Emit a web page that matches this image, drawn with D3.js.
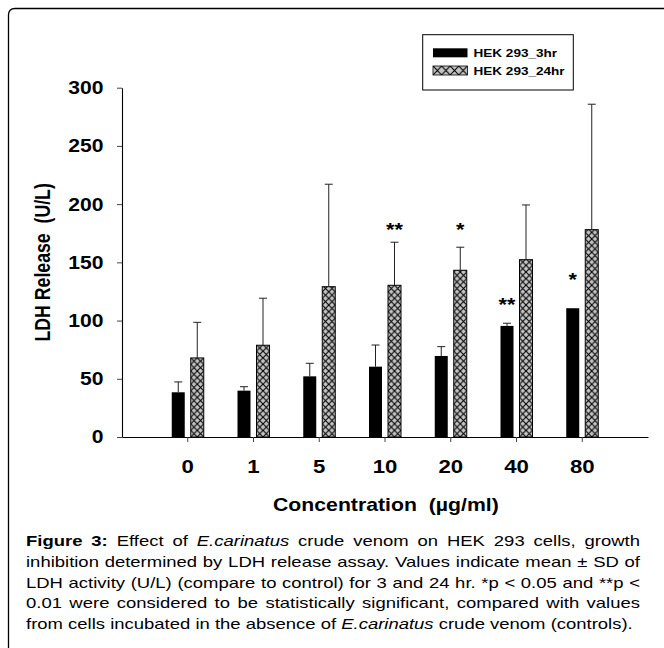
<!DOCTYPE html>
<html><head><meta charset="utf-8">
<script src="https://cdn.jsdelivr.net/npm/d3@7"></script>
<style>body{margin:0;background:#fff}</style>
</head><body>
<svg id="chart" width="664" height="648"></svg>
<script>
// ---------- data ----------
const categories = ["0", "1", "5", "10", "20", "40", "80"];
const hr3 = [38.4, 39.8, 52.1, 60.4, 69.6, 95.4, 110.6];
const hr3SD = [8.9, 3.4, 11.2, 18.6, 8.0, 2.3, 0];
const hr24 = [67.9, 78.8, 129.1, 130.3, 143.2, 152.3, 178.1];
const hr24SD = [30.6, 40.4, 88.0, 37.0, 19.8, 47.0, 107.7];
const yTicks = [0, 50, 100, 150, 200, 250, 300];
const seriesNames = ["HEK 293_3hr", "HEK 293_24hr"];
const sigCats = ["10", "20", "40", "80"];
const sigSeries = [1, 1, 0, 0];
const sigMarks = ["**", "*", "**", "*"];
const sigLevels = [181.5, 181.5, 117, 138.3];
const xTitle = "Concentration\u00a0\u00a0(\u00b5g/ml)";
const yTitle = "LDH\u00a0Release\u00a0\u00a0(U/L)";
const captionLines = [
  [["Figure 3:", "b"], [" Effect of ", ""], ["E.carinatus", "i"], [" crude venom on HEK 293 cells, growth", ""]],
  [["inhibition determined by LDH release assay. Values indicate mean \u00b1 SD of", ""]],
  [["LDH activity (U/L) (compare to control) for 3 and 24 hr. *p < 0.05 and **p <", ""]],
  [["0.01 were considered to be statistically significant, compared with values", ""]],
  [["from cells incubated in the absence of ", ""], ["E.carinatus", "i"], [" crude venom (controls).", ""]]
];

// ---------- layout ----------
const SX = 1.2;
const FONT = "'Liberation Sans', Arial, Helvetica, sans-serif";
const svg = d3.select("#chart");
const plotL = 122, plotR = 648, plotT = 87.7, plotB = 437;

const x = d3.scaleBand().domain(categories).range([plotL, plotR]).paddingInner(0).paddingOuter(0.5);
const y = d3.scaleLinear().domain([0, 300]).range([plotB, plotT]);
const barW = 13, off = 3;

function stext(g, px, py, str, size, anchor, weight) {
  return g.append("text")
    .attr("transform", `translate(${px},${py}) scale(${SX},1)`)
    .attr("font-family", FONT).attr("font-size", size)
    .attr("font-weight", weight || "bold")
    .attr("text-anchor", anchor || "start")
    .attr("fill", "#000")
    .text(str);
}

// frame (top + left, rounded corner)
svg.append("path")
  .attr("d", "M8.5,648 L8.5,15 Q8.5,8.5 15,8.5 L664,8.5")
  .attr("fill", "none").attr("stroke", "#000").attr("stroke-width", 1.3);

const defs = svg.append("defs");
function hatch(id, px, py, w, h) {
  const p = defs.append("pattern").attr("id", id)
    .attr("patternUnits", "userSpaceOnUse")
    .attr("x", px).attr("y", py).attr("width", w).attr("height", h);
  p.append("rect").attr("width", w).attr("height", h).attr("fill", "#c4c4c4");
  p.append("path").attr("d", `M0,0L${w},${h}M${w},0L0,${h}`)
    .attr("stroke", "#000").attr("stroke-width", 1.1).attr("fill", "none");
}

// bars
const g = svg.append("g");
categories.forEach((c, i) => {
  const cx = x(c) + x.bandwidth() / 2;
  hatch("h" + i, cx + off, plotB, 6.5, 6.6);
});

g.selectAll("rect.b3").data(categories).join("rect").attr("class", "b3")
  .attr("x", c => x(c) + x.bandwidth() / 2 - off - barW)
  .attr("y", (c, i) => y(hr3[i]))
  .attr("width", barW)
  .attr("height", (c, i) => y(0) - y(hr3[i]))
  .attr("fill", "#000");

g.selectAll("rect.b24").data(categories).join("rect").attr("class", "b24")
  .attr("x", c => x(c) + x.bandwidth() / 2 + off)
  .attr("y", (c, i) => y(hr24[i]))
  .attr("width", barW)
  .attr("height", (c, i) => y(0) - y(hr24[i]))
  .attr("fill", (c, i) => `url(#h${i})`)
  .attr("stroke", "#000").attr("stroke-width", 1);

// error bars (upper only)
function errBars(vals, sds, dx) {
  categories.forEach((c, i) => {
    if (!sds[i]) return;
    const cx = x(c) + x.bandwidth() / 2 + dx;
    const y1 = y(vals[i]), y2 = y(vals[i] + sds[i]);
    g.append("line").attr("x1", cx).attr("x2", cx).attr("y1", y1).attr("y2", y2)
      .attr("stroke", "#222").attr("stroke-width", 1);
    g.append("line").attr("x1", cx - 4).attr("x2", cx + 4).attr("y1", y2).attr("y2", y2)
      .attr("stroke", "#222").attr("stroke-width", 1);
  });
}
errBars(hr3, hr3SD, -off - barW / 2);
errBars(hr24, hr24SD, off + barW / 2);

// significance marks
sigCats.forEach((c, k) => {
  const dx = sigSeries[k] === 0 ? -off - barW / 2 : off + barW / 2;
  const cx = x(c) + x.bandwidth() / 2 + dx;
  stext(g, cx, y(sigLevels[k]) + 10.5, sigMarks[k], 18, "middle");
});

// axes
const ax = svg.append("g").attr("transform", `translate(0,${plotB})`)
  .call(d3.axisBottom(x).tickSizeOuter(0).tickSizeInner(5).tickFormat(""));
ax.select(".domain").attr("stroke", "#000").attr("stroke-width", 1.1);
ax.selectAll(".tick line").attr("stroke", "#444");
const ay = svg.append("g").attr("transform", `translate(${plotL},0)`)
  .call(d3.axisLeft(y).tickValues(yTicks).tickSizeOuter(0).tickSizeInner(5).tickFormat(""));
ay.select(".domain").attr("stroke", "#000").attr("stroke-width", 1.1);
ay.selectAll(".tick line").attr("stroke", "#444");

// tick labels
categories.forEach(c => stext(svg, x(c) + x.bandwidth() / 2, 473.3, c, 18.5, "middle"));
yTicks.forEach(v => stext(svg, 103.5, y(v) + 6.4, String(v), 17.6, "end"));

// axis titles
stext(svg, 273, 511, xTitle, 17.7, "start");
svg.append("text")
  .attr("transform", `translate(50,${(plotT + plotB) / 2}) rotate(-90) scale(1,${SX})`)
  .attr("font-family", FONT).attr("font-size", 17.7).attr("font-weight", "bold")
  .attr("text-anchor", "middle").text(yTitle);

// legend
const lg = svg.append("g");
lg.append("rect").attr("x", 422.7).attr("y", 34.7).attr("width", 150.6).attr("height", 55.3)
  .attr("fill", "#fff").attr("stroke", "#000").attr("stroke-width", 1);
hatch("hleg", 433, 66, 8.6, 9);
const legFills = ["#000", "url(#hleg)"];
seriesNames.forEach((s, i) => {
  const yy = 48.3 + i * 17.7;
  lg.append("rect").attr("x", 433).attr("y", yy).attr("width", 34.5).attr("height", 9)
    .attr("fill", legFills[i]).attr("stroke", "#000").attr("stroke-width", i ? 0.8 : 0);
  stext(lg, 473.5, yy + 9, s, 11.3, "start");
});

// caption
const capL = 26, capR = 640, capY0 = 546, capDY = 20.8, capFS = 15.4;
captionLines.forEach((segs, li) => {
  const t = svg.append("text")
    .attr("transform", `translate(${capL},${capY0 + li * capDY}) scale(${SX},1)`)
    .attr("font-family", FONT).attr("font-size", capFS).attr("fill", "#000")
    .style("white-space", "pre");
  segs.forEach(([str, st]) => {
    const ts = t.append("tspan").text(str);
    if (st === "b") ts.attr("font-weight", "bold");
    if (st === "i") ts.attr("font-style", "italic");
  });
  if (li < captionLines.length - 1) {
    const full = segs.map(s => s[0]).join("");
    const nSp = (full.match(/ /g) || []).length;
    const nat = t.node().getComputedTextLength();
    const target = (capR - capL) / SX;
    t.attr("word-spacing", (target - nat) / nSp);
  }
});
</script>
</body></html>
